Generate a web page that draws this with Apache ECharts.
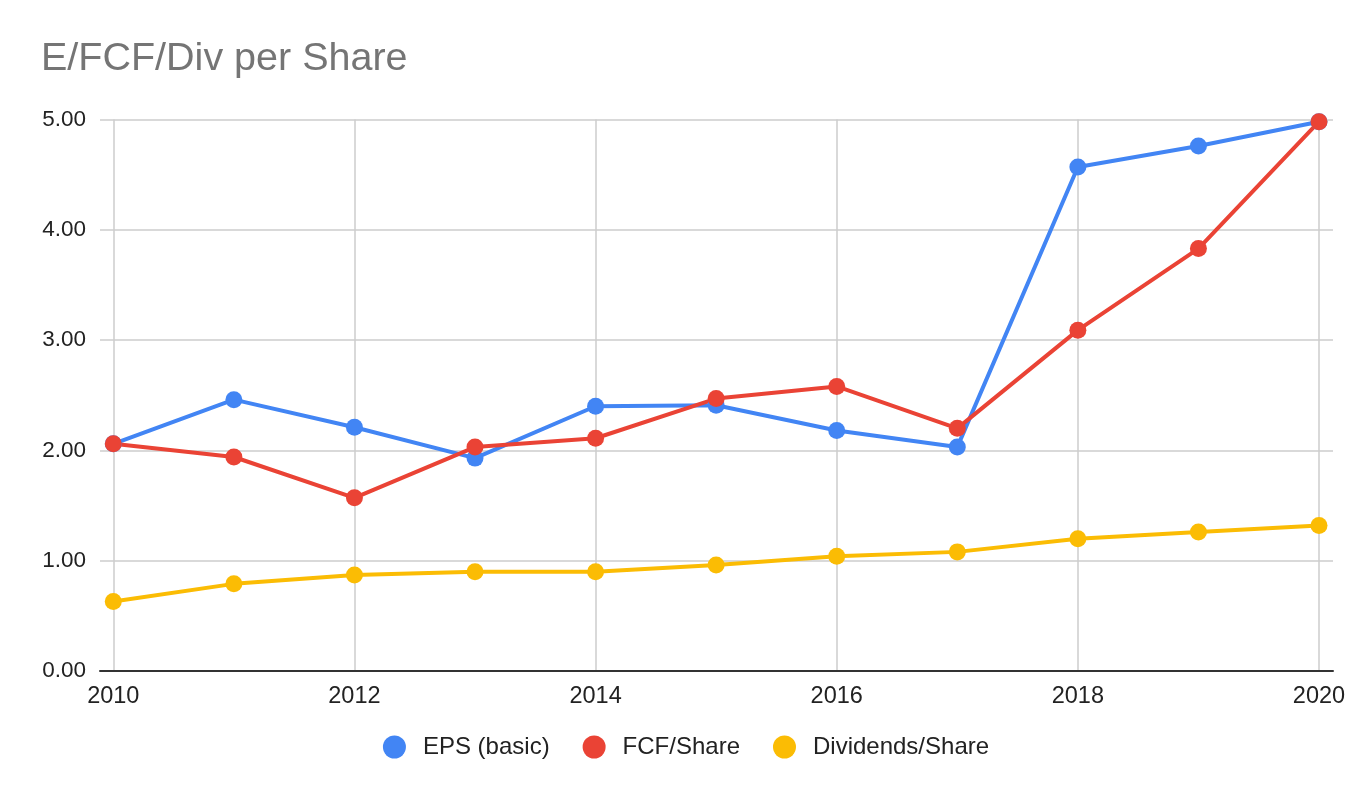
<!DOCTYPE html>
<html>
<head>
<meta charset="utf-8">
<title>E/FCF/Div per Share</title>
<script src="https://cdn.jsdelivr.net/npm/echarts@6/dist/echarts.min.js"></script>
<style>
  html, body { margin: 0; padding: 0; background: #fff; }
  #chart { width: 1372px; height: 798px; }
</style>
</head>
<body>
<div id="chart"></div>
<script>
// values
const years = [2010, 2011, 2012, 2013, 2014, 2015, 2016, 2017, 2018, 2019, 2020];
const eps = [2.06, 2.46, 2.21, 1.93, 2.40, 2.41, 2.18, 2.03, 4.57, 4.76, 4.98];
const fcfPerShare = [2.06, 1.94, 1.57, 2.03, 2.11, 2.47, 2.58, 2.20, 3.09, 3.83, 4.98];
const divPerShare = [0.63, 0.79, 0.87, 0.90, 0.90, 0.96, 1.04, 1.08, 1.20, 1.26, 1.32];
const seriesNames = ['EPS (basic)', 'FCF/Share', 'Dividends/Share'];
const colors = ['#4285F4', '#EA4335', '#FBBC04'];

const font = "'Liberation Sans', Arial, sans-serif";
const gridColor = '#cccccc';

function pairs(values) {
  return years.map((y, i) => [y, values[i]]);
}

const chart = echarts.init(document.getElementById('chart'));

function lineSeries(name, values, color) {
  return {
    name: name,
    type: 'line',
    xAxisIndex: 1,
    yAxisIndex: 1,
    data: pairs(values),
    symbol: 'circle',
    symbolSize: 17,
    showSymbol: true,
    lineStyle: { width: 4, color: color },
    itemStyle: { color: color },
    emphasis: { disabled: true },
    animation: false
  };
}

const option = {
  backgroundColor: '#ffffff',
  color: colors,
  title: {
    text: 'E/FCF/Div per Share',
    left: 41,
    top: 39,
    padding: 0,
    textStyle: {
      fontFamily: font,
      fontSize: 39.5,
      fontWeight: 'normal',
      color: '#757575'
    }
  },
  legend: {
    data: seriesNames,
    top: 730,
    left: 'center',
    icon: 'circle',
    itemWidth: 23,
    itemHeight: 23,
    itemGap: 33,
    textStyle: {
      fontFamily: font,
      fontSize: 24,
      color: '#222222',
      padding: [0, 0, 0, 12]
    }
  },
  // grid 0: full-width background with horizontal lines and base line
  // grid 1: data area, inset so the end points sit inside
  grid: [
    { left: 100, right: 39, top: 119.5, bottom: 127, containLabel: false },
    { left: 113.3, right: 53, top: 119.5, bottom: 127, containLabel: false }
  ],
  xAxis: [
    {
      gridIndex: 0,
      type: 'value',
      min: 0,
      max: 1,
      axisLine: { show: true, lineStyle: { color: '#333333', width: 2 } },
      axisTick: { show: false },
      axisLabel: { show: false },
      splitLine: { show: false }
    },
    {
      gridIndex: 1,
      type: 'value',
      min: 2010,
      max: 2020,
      interval: 2,
      axisLine: { show: false },
      axisTick: { show: false },
      axisLabel: {
        fontFamily: font,
        fontSize: 23.5,
        color: '#222222',
        margin: 14,
        formatter: v => String(v)
      },
      splitLine: { show: true, lineStyle: { color: gridColor, width: 1.5 } }
    }
  ],
  yAxis: [
    {
      gridIndex: 0,
      type: 'value',
      min: 0,
      max: 5,
      interval: 1,
      axisLine: { show: false },
      axisTick: { show: false },
      axisLabel: {
        fontFamily: font,
        fontSize: 22.5,
        color: '#222222',
        margin: 14,
        formatter: v => v.toFixed(2)
      },
      splitLine: { show: true, lineStyle: { color: gridColor, width: 1.5 } }
    },
    {
      gridIndex: 1,
      type: 'value',
      min: 0,
      max: 5,
      interval: 1,
      show: false
    }
  ],
  series: [
    lineSeries(seriesNames[0], eps, colors[0]),
    lineSeries(seriesNames[1], fcfPerShare, colors[1]),
    lineSeries(seriesNames[2], divPerShare, colors[2])
  ]
};

chart.setOption(option);
</script>
</body>
</html>
